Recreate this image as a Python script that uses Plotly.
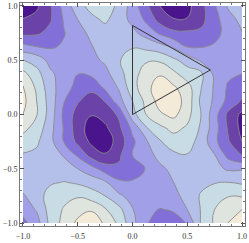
import plotly.graph_objects as go

grid_x = [-1, -.875, -.75, -.625, -.5, -.375, -.25, -.125, 0, .125, .25, .375, .5, .625, .75, .875, 1]
grid_y = [1, .875, .75, .625, .5, .375, .25, .125, 0, -.125, -.25, -.375, -.5, -.625, -.75, -.875, -1]
row_p100 = [0.3,0.85,1.85,3.4,4.6,5.4,5.5,4.8,3.55,2.2,1.0,0.5,0.7,1.65,2.9,4.15,4.7]
row_p088 = [1.05,1.25,1.9,3.1,4.0,4.7,5.2,4.45,3.75,2.8,1.6,1.05,1.05,1.7,2.65,3.6,4.3]
row_p075 = [1.75,1.85,2.3,2.95,3.6,4.25,4.5,4.5,4.25,3.6,2.85,2.25,2.2,2.2,2.75,3.3,3.95]
row_p062 = [3.3,3.0,2.9,3.1,3.5,3.95,4.35,4.7,4.95,4.7,4.35,3.85,2.95,2.95,3.1,3.45,3.8]
row_p050 = [5.05,4.6,3.65,3.4,3.5,3.75,4.15,4.95,5.3,5.9,5.85,5.2,4.6,3.85,3.55,3.4,3.35]
row_p038 = [6.3,5.35,4.2,3.5,3.02,3.2,3.7,4.6,5.65,6.4,6.9,6.25,5.45,5.2,3.75,3.2,3.0]
row_p025 = [7.1,5.8,4.4,3.4,2.7,2.3,3.2,4.1,5.6,6.7,7.5,7.15,6.4,5.05,3.85,2.85,2.3]
row_p012 = [7.3,6.0,4.55,3.05,2.1,1.5,2.05,3.6,5.0,6.3,7.4,7.55,6.6,4.8,3.8,2.7,1.9]
row_000 = [7.0,6.05,4.55,2.75,1.6,1.05,1.4,2.15,4.6,6.0,6.85,7.25,6.35,5.0,3.4,1.75,0.75]
row_m012 = [6.3,5.6,4.35,2.9,1.45,0.55,0.8,1.75,3.25,4.9,5.75,6.3,5.85,4.85,3.45,1.85,0.7]
row_m025 = [5.55,5.15,4.3,2.95,1.75,0.8,0.45,1.4,2.8,3.85,4.9,5.5,5.4,4.65,3.25,2.1,1.0]
row_m038 = [4.9,4.8,4.3,3.95,2.85,1.6,1.1,1.8,3.0,3.6,4.3,4.8,4.95,4.65,4.05,2.65,1.95]
row_m050 = [4.6,4.5,4.45,4.25,4.0,3.4,2.5,2.2,2.55,3.05,3.8,4.25,4.35,4.5,4.3,3.85,3.9]
row_m062 = [4.35,4.6,4.85,5.05,4.85,4.55,4.15,3.2,3.1,3.35,3.7,4.0,4.4,4.75,4.95,5.0,4.85]
row_m075 = [3.9,4.45,5.5,5.7,5.9,5.5,5.0,4.2,3.6,3.4,3.4,3.7,4.35,5.1,5.5,5.95,5.9]
row_m088 = [3.35,4.1,5.4,6.1,6.65,6.9,6.1,5.3,4.05,3.35,2.95,3.1,4.0,5.05,6.0,6.65,7.0]
row_m100 = [2.7,3.55,5.3,6.35,7.2,7.6,6.85,5.8,4.3,3.1,2.5,2.6,3.05,5.1,6.15,7.05,7.6]
grid_z = [row_p100,row_p088,row_p075,row_p062,row_p050,row_p038,row_p025,row_p012,row_000,
          row_m012,row_m025,row_m038,row_m050,row_m062,row_m075,row_m088,row_m100]
band_colors = ["#4a148c","#6a42a8","#8270d8","#a09fe8","#b4c0ea","#c8dce6","#e0e4de","#f4ead8"]
tri_x = [0, 0, 0.71, 0]
tri_y = [0, 0.82, 0.41, 0]
tick_vals = [-1, -0.5, 0, 0.5, 1]
tick_text = ["\u22121.0", "\u22120.5", "0.0", "0.5", "1.0"]

n = len(band_colors)
scale = []
for i, c in enumerate(band_colors):
    scale += [[i / n, c], [(i + 1) / n, c]]

fig = go.Figure()
fig.add_trace(go.Contour(x=grid_x, y=grid_y, z=grid_z, zmin=0, zmax=8, colorscale=scale, showscale=False,
                         contours=dict(start=1, end=7, size=1, coloring="fill"),
                         line=dict(color="#8a8a8a", width=0.9, smoothing=1.3), hoverinfo="skip"))
fig.add_trace(go.Scatter(x=tri_x, y=tri_y, mode="lines", line=dict(color="#333333", width=1), hoverinfo="skip"))
ax = dict(range=[-1.027, 1.027], tickvals=tick_vals, ticktext=tick_text, ticks="inside", ticklen=4, tickwidth=0.6,
          tickcolor="#555555", mirror="ticks", showline=True, linecolor="#777777", linewidth=0.7, showgrid=False,
          zeroline=False, tickfont=dict(family="Liberation Serif", size=8, color="#333333"), tickangle=0,
          minor=dict(dtick=0.1, tick0=0, ticks="inside", ticklen=2, tickwidth=0.5, tickcolor="#777777", showgrid=False))
fig.update_layout(width=249, height=243, margin=dict(l=19.5, r=2.5, t=2, b=15), paper_bgcolor="white",
                  plot_bgcolor="white", showlegend=False, xaxis=dict(ax, ticklabelstandoff=3), yaxis=ax)
fig.write_html("out.html", config=dict(displayModeBar=False),
               post_script="document.body.style.margin='0';document.documentElement.style.overflow='hidden';")
